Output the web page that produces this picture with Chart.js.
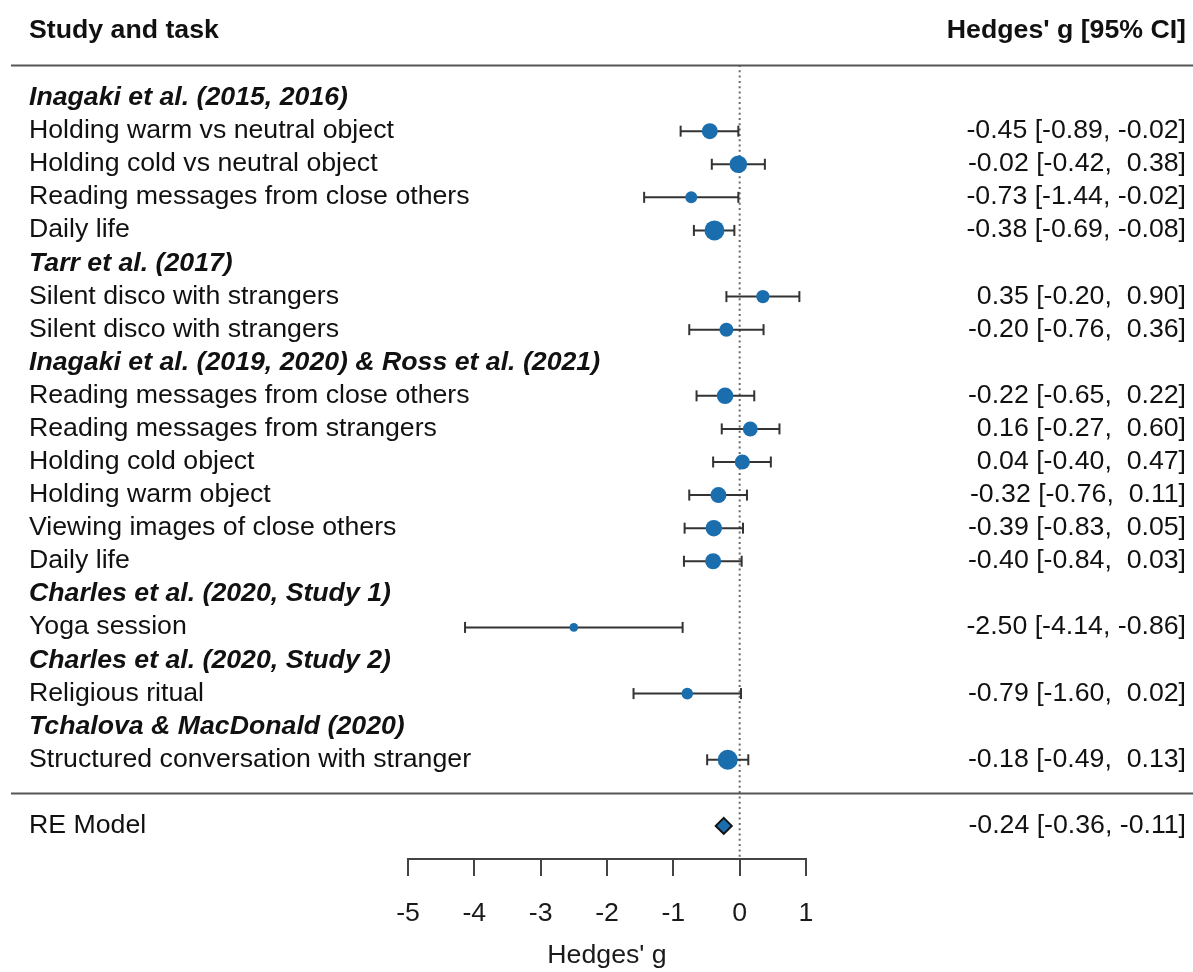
<!DOCTYPE html>
<html><head><meta charset="utf-8">
<script src="https://cdn.jsdelivr.net/npm/chart.js@4.4.1/dist/chart.umd.min.js"></script>
<style>html,body{margin:0;padding:0;background:#fff;}#c{display:block;}</style>
</head><body>
<canvas id="c" width="1193" height="972"></canvas>
<script>
// ---- data ----
const headerLeft = "Study and task";
const headerRight = "Hedges' g [95% CI]";
const xTitle = "Hedges' g";
const xTicks = [-5, -4, -3, -2, -1, 0, 1];

const labels = [
  "Inagaki et al. (2015, 2016)",
  "Holding warm vs neutral object",
  "Holding cold vs neutral object",
  "Reading messages from close others",
  "Daily life",
  "Tarr et al. (2017)",
  "Silent disco with strangers",
  "Silent disco with strangers",
  "Inagaki et al. (2019, 2020) & Ross et al. (2021)",
  "Reading messages from close others",
  "Reading messages from strangers",
  "Holding cold object",
  "Holding warm object",
  "Viewing images of close others",
  "Daily life",
  "Charles et al. (2020, Study 1)",
  "Yoga session",
  "Charles et al. (2020, Study 2)",
  "Religious ritual",
  "Tchalova & MacDonald (2020)",
  "Structured conversation with stranger"
];
const isGroup = [true,false,false,false,false,true,false,false,true,false,false,false,false,false,false,true,false,true,false,true,false];
const estimate = [null,-0.45,-0.02,-0.73,-0.38,null,0.35,-0.20,null,-0.22,0.16,0.04,-0.32,-0.39,-0.40,null,-2.50,null,-0.79,null,-0.18];
const lower    = [null,-0.89,-0.42,-1.44,-0.69,null,-0.20,-0.76,null,-0.65,-0.27,-0.40,-0.76,-0.83,-0.84,null,-4.14,null,-1.60,null,-0.49];
const upper    = [null,-0.02, 0.38,-0.02,-0.08,null, 0.90, 0.36,null, 0.22, 0.60, 0.47, 0.11, 0.05, 0.03,null,-0.86,null, 0.02,null, 0.13];
const weights  = [null, 7.3, 8.7, 3.8, 10.8, null, 5.0, 5.6, null, 7.7, 6.4, 6.6, 7.3, 7.7, 7.3, null, 0.9, null, 3.5, null, 10.8];

const modelLabel = "RE Model";
const modelEstimate = -0.24;
const modelLower = -0.36;
const modelUpper = -0.11;

// ---- layout helpers ----
const FONT = '"Liberation Sans", Arial, sans-serif';
const FS = 26.7;
const BLUE = '#1b6ead';
const nRows = labels.length;
const sepRow = nRows + 1;
const modelRow = nRows + 2;
const axisRow = nRows + 3;

function fmt(v) { const s = v.toFixed(2); return v < 0 ? s : ' ' + s; }

const pointData = [], radii = [];
estimate.forEach((e, i) => {
  if (e !== null) { pointData.push({x: e, y: i + 1}); radii.push(3.8 + 0.575 * weights[i]); }
});

const datasets = [];
datasets.push({ label: 'est', data: pointData, pointRadius: radii, pointHoverRadius: radii,
  backgroundColor: BLUE, borderColor: BLUE, pointBorderWidth: 0, showLine: false });
datasets.push({ label: 'model', data: [{x: modelEstimate, y: modelRow}], pointStyle: 'rectRot',
  pointRadius: 8, backgroundColor: BLUE, borderColor: '#111', pointBorderWidth: 2, showLine: false });
estimate.forEach((e, i) => {
  if (e === null) return;
  datasets.push({ label: 'ci' + i, data: [{x: lower[i], y: i + 1}, {x: upper[i], y: i + 1}],
    showLine: true, borderColor: '#333', borderWidth: 2,
    pointStyle: 'line', pointRotation: 90, pointRadius: 5.5, pointBorderWidth: 2,
    pointBorderColor: '#333', backgroundColor: '#333' });
});
datasets.push({ label: 'zero', data: [{x: 0, y: 0}, {x: 0, y: axisRow}], showLine: true,
  borderColor: '#6a6a6a', borderWidth: 2, borderDash: [2, 3.3], pointRadius: 0 });

const textPlugin = {
  id: 'forestText',
  afterDraw(chart) {
    const ctx = chart.ctx, ys = chart.scales.y;
    const W = chart.width;
    const py = r => ys.getPixelForValue(r);
    ctx.save();
    ctx.strokeStyle = '#555'; ctx.lineWidth = 2;
    [0, sepRow].forEach(r => {
      const y = Math.round(py(r)) + 0.5;
      ctx.beginPath(); ctx.moveTo(11, y); ctx.lineTo(W, y); ctx.stroke();
    });
    ctx.fillStyle = '#111';
    ctx.textBaseline = 'alphabetic';
    ctx.font = 'bold ' + FS + 'px ' + FONT;
    ctx.textAlign = 'left'; ctx.fillText(headerLeft, 29, py(-1) + 6);
    ctx.textAlign = 'right'; ctx.fillText(headerRight, 1186, py(-1) + 6);
    labels.forEach((lab, i) => {
      const y = py(i + 1) + 7;
      ctx.textAlign = 'left';
      ctx.font = (isGroup[i] ? 'italic bold ' : '') + FS + 'px ' + FONT;
      ctx.fillText(lab, 29, y);
      if (estimate[i] !== null) {
        ctx.font = FS + 'px ' + FONT;
        ctx.textAlign = 'right';
        ctx.fillText(estimate[i].toFixed(2) + ' [' + fmt(lower[i]) + ', ' + fmt(upper[i]) + ']', 1186, y);
      }
    });
    ctx.font = FS + 'px ' + FONT;
    ctx.textAlign = 'left';
    ctx.fillText(modelLabel, 29, py(modelRow) + 7);
    ctx.textAlign = 'right';
    ctx.fillText(modelEstimate.toFixed(2) + ' [' + fmt(modelLower) + ', ' + fmt(modelUpper) + ']', 1186, py(modelRow) + 7);
    ctx.restore();
  }
};

new Chart(document.getElementById('c'), {
  type: 'scatter',
  data: { datasets },
  options: {
    responsive: false, animation: false, events: [],
    layout: { padding: { left: 408, right: 387, top: 65, bottom: 0 } },
    plugins: { legend: { display: false }, tooltip: { enabled: false } },
    scales: {
      x: {
        type: 'linear', min: -5, max: 1,
        afterBuildTicks: s => { s.ticks = xTicks.map(v => ({value: v})); },
        afterFit: s => { s.height = 113; },
        ticks: { font: { family: FONT, size: FS }, color: '#1a1a1a', padding: 22,
          callback: v => String(v) },
        grid: { display: true, drawOnChartArea: false, drawTicks: true, tickLength: 17,
          color: '#444', lineWidth: 2 },
        border: { display: true, color: '#444', width: 2 },
        title: { display: true, text: xTitle, font: { family: FONT, size: FS }, color: '#1a1a1a',
          padding: { top: 0, bottom: 0 } }
      },
      y: { type: 'linear', min: 0, max: axisRow, reverse: true, display: false }
    }
  },
  plugins: [textPlugin]
});
</script>
</body></html>
